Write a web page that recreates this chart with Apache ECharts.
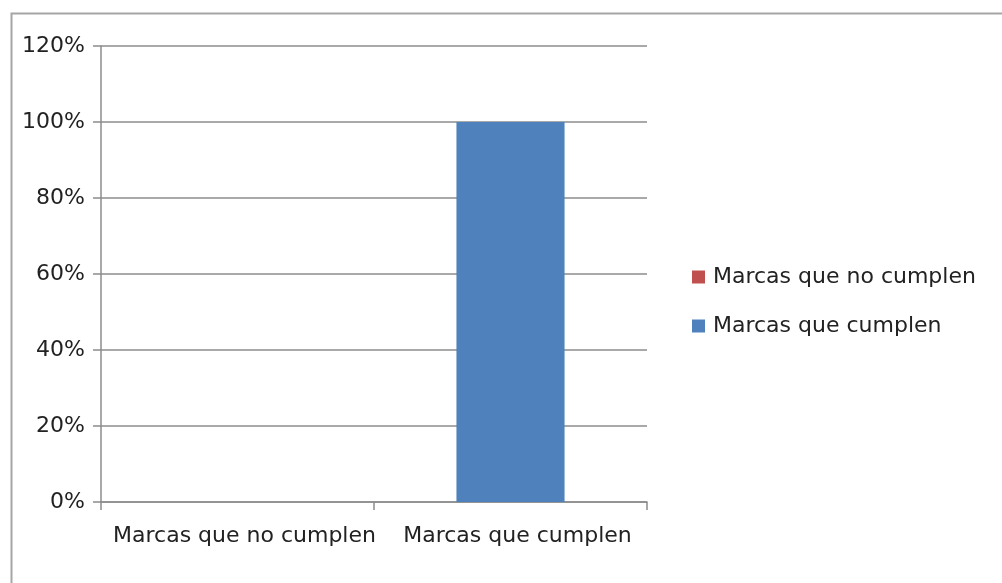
<!DOCTYPE html>
<html>
<head>
<meta charset="utf-8">
<script src="https://cdn.jsdelivr.net/npm/echarts@6/dist/echarts.min.js"></script>
<style>
html,body{margin:0;padding:0;background:#fff;}
#c{width:1002px;height:583px;}
</style>
</head>
<body>
<div id="c"></div>
<script>
const categories = ["Marcas que no cumplen", "Marcas que cumplen"];
const seriesNames = ["Marcas que no cumplen", "Marcas que cumplen"];
const noCumplen = [0, 0];
const cumplen = [0, 100];
const yTicks = [0, 20, 40, 60, 80, 100, 120];

const chart = echarts.init(document.getElementById('c'), null, {renderer: 'canvas'});
const font = 'DejaVu Sans';
const fs = 22;
const txt = '#222';
const lineCol = '#8c8c8c';
chart.setOption({
  animation: false,
  backgroundColor: '#fff',
  graphic: [{
    type: 'rect', left: 9, top: 11,
    shape: {width: 1000, height: 580},
    style: {fill: 'none', stroke: '#a6a6a6', lineWidth: 2}
  }],
  legend: {
    orient: 'vertical', left: 687, top: 261,
    itemWidth: 13, itemHeight: 13, itemGap: 27,
    icon: 'rect',
    textStyle: {fontFamily: font, fontSize: fs, color: txt, padding: [0,0,0,3]},
    data: seriesNames
  },
  grid: {left: 101, right: 355, top: 46, bottom: 81, containLabel: false},
  xAxis: {
    type: 'category', data: categories,
    axisLine: {lineStyle: {color: lineCol, width: 1.5}},
    axisTick: {show: true, length: 8, lineStyle: {color: lineCol, width: 1.5}},
    axisLabel: {fontFamily: font, fontSize: fs, color: txt, margin: 23, interval: 0, padding: [0,0,0,14]},
    splitLine: {show: false}
  },
  yAxis: {
    type: 'value', min: yTicks[0], max: yTicks[yTicks.length-1], interval: 20,
    axisLine: {show: true, lineStyle: {color: lineCol, width: 1.5}},
    axisTick: {show: true, length: 8, lineStyle: {color: lineCol, width: 1.5}},
    axisLabel: {formatter: '{value}%', fontFamily: font, fontSize: fs, color: txt, margin: 16},
    splitLine: {show: true, lineStyle: {color: lineCol, width: 1.5}}
  },
  series: [
    {name: seriesNames[0], type: 'bar', stack: 's', data: noCumplen, barWidth: '39.6%', itemStyle: {color: '#C0504D'}},
    {name: seriesNames[1], type: 'bar', stack: 's', data: cumplen, barWidth: '39.6%', itemStyle: {color: '#4F81BD'}}
  ]
});
</script>
</body>
</html>
